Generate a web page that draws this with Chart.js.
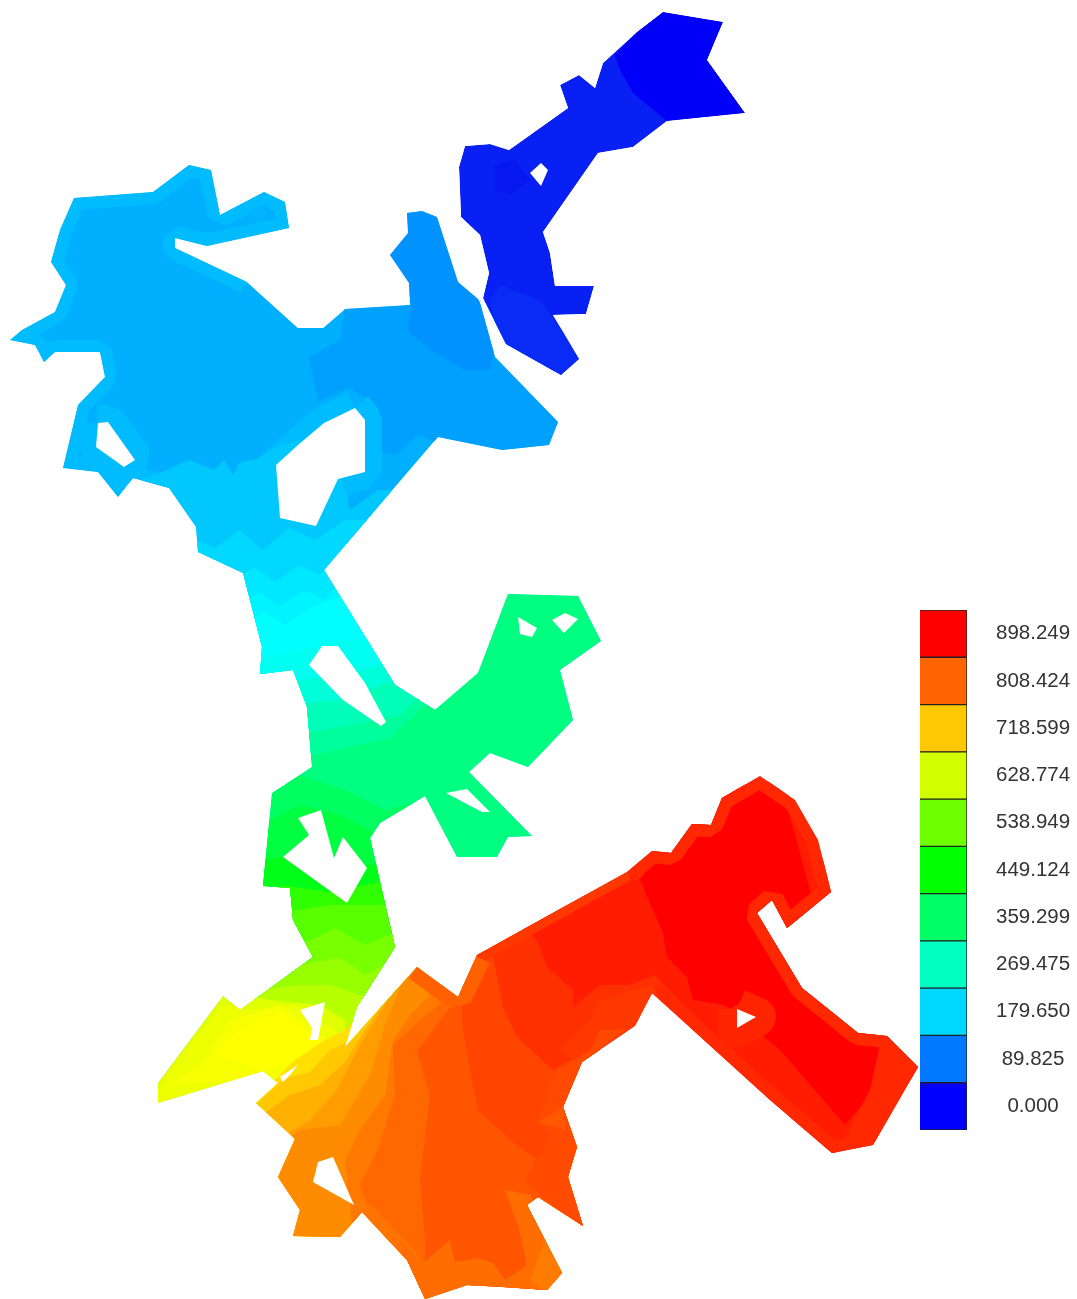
<!DOCTYPE html>
<html>
<head>
<meta charset="utf-8">
<title>Contour map</title>
<script src="https://cdn.jsdelivr.net/npm/chart.js@4"></script>
<style>
  html, body { margin: 0; padding: 0; background: #fff; overflow: hidden; }
  canvas { position: absolute; filter: blur(0.6px); }
  #mapChart { left: 0; top: 0; }
  #scaleChart { left: 910px; top: 600px; }
</style>
</head>
<body>
<canvas id="mapChart" width="1077" height="1299"></canvas>
<canvas id="scaleChart" width="167" height="540"></canvas>
<script>
// colour scale
const scaleLabels = ['898.249', '808.424', '718.599', '628.774', '538.949', '449.124', '359.299', '269.475', '179.650', '89.825', '0.000'];
const scaleColors = ['#ff0000', '#ff6400', '#ffc800', '#d2ff00', '#6eff00', '#00ff00', '#00ff64', '#00ffc0', '#00d7ff', '#0078ff', '#0000ff'];
const scaleCells = [1, 1, 1, 1, 1, 1, 1, 1, 1, 1, 1];

// outlines, in map units
const mainOutline = [[10,340],[22,330],[55,312],[66,285],[51,262],[60,230],[74,198],[153,192],[189,165],[211,170],[220,215],[264,192],[285,202],[289,228],[207,246],[175,238],[175,248],[247,282],[298,328],[323,328],[345,309],[410,305],[409,283],[390,255],[408,233],[407,213],[422,211],[437,217],[458,282],[478,299],[480,303],[495,357],[558,422],[549,445],[502,450],[438,437],[324,570],[395,685],[435,710],[478,673],[508,594],[578,596],[601,641],[560,670],[573,720],[528,767],[490,753],[469,772],[532,836],[508,837],[497,857],[457,857],[425,796],[380,823],[370,838],[395,947],[357,1007],[345,1047],[417,967],[458,997],[477,955],[627,872],[652,851],[671,853],[692,824],[711,825],[722,798],[760,776],[795,800],[818,840],[831,892],[787,928],[772,900],[757,913],[802,988],[858,1033],[887,1036],[918,1067],[873,1145],[832,1153],[770,1100],[652,993],[635,1026],[582,1062],[563,1107],[577,1147],[568,1177],[583,1226],[538,1197],[527,1205],[562,1273],[547,1290],[503,1287],[467,1285],[425,1299],[407,1260],[362,1212],[340,1237],[293,1236],[300,1210],[278,1177],[295,1139],[256,1103],[278,1083],[263,1071],[158,1103],[158,1083],[223,996],[240,1010],[313,957],[293,920],[290,888],[263,886],[272,793],[312,767],[307,707],[293,670],[260,674],[262,647],[243,573],[198,552],[196,527],[169,488],[133,478],[118,497],[98,472],[63,468],[78,405],[105,377],[100,352],[55,352],[44,362],[35,345]];
const blueOutline = [[663,12],[723,22],[707,60],[745,113],[667,121],[633,147],[598,153],[543,232],[550,253],[555,286],[594,286],[586,314],[553,315],[579,359],[561,375],[506,344],[483,298],[489,273],[480,235],[461,217],[459,167],[465,146],[490,144],[509,150],[568,108],[560,85],[579,75],[595,88],[603,63],[637,32]];

// holes
const holeWest = [[98,423],[108,422],[135,460],[124,467],[96,447]];
const holeLake = [[355,408],[365,420],[365,472],[338,479],[316,526],[280,518],[276,465],[298,445],[324,423]];
const holeLong = [[322,646],[338,646],[365,683],[386,722],[381,726],[343,700],[309,665]];
const holeEyeA = [[518,617],[537,628],[532,637],[520,634]];
const holeEyeB = [[552,620],[565,613],[578,619],[564,633]];
const holeSliver = [[446,793],[467,789],[490,812],[482,812]];
const holeStem = [[298,818],[321,810],[334,858],[343,837],[367,868],[347,903],[283,857],[309,835]];
const holeWing = [[300,1010],[325,1002],[318,1040],[310,1040],[312,1028]];
const holeNick = [[280,1077],[298,1065],[290,1075],[283,1082]];
const holeArm = [[318,1162],[333,1157],[354,1205],[313,1182]];
const holeTail = [[737,1009],[756,1017],[737,1028]];
const holeBlue = [[530,173],[541,163],[548,170],[541,186]];

// basin bands
const eastZone = [[309,357],[340,340],[345,305],[412,300],[500,300],[600,430],[500,470],[418,435],[396,455],[380,452],[375,403],[349,388],[318,402]];
const northLobe = [[407,330],[418,340],[440,355],[465,370],[490,370],[495,345],[480,300],[460,280],[437,215],[420,205],[400,215],[385,255],[405,285],[412,305]];
const basinRim = [[247,282],[175,248],[175,238],[207,246],[289,228],[285,202],[264,192],[220,215],[211,170],[189,165],[153,192],[74,198],[60,230],[51,262],[66,285],[55,312],[22,330],[10,340],[35,345],[44,362],[55,352],[100,352],[105,377],[78,405],[63,468],[98,472],[118,497],[133,478],[169,488]];
const knobPatch = [[250,210],[262,205],[268,215],[258,222]];
const basinSouth = [[140,480],[160,473],[189,460],[214,470],[224,460],[233,475],[240,462],[255,460],[273,448],[300,440],[330,450],[345,490],[350,510],[378,490],[395,490],[440,440],[480,600],[200,600],[130,520]];

// stem bands, cyan down through green
const cyanA = [[185,535],[215,548],[240,530],[262,550],[290,528],[315,540],[345,520],[420,520],[420,700],[230,700]];
const cyanB = [[230,580],[255,568],[275,582],[300,565],[320,575],[345,545],[420,545],[420,720],[230,720]];
const cyanC = [[235,605],[260,592],[280,606],[305,590],[325,600],[350,570],[420,570],[420,720],[235,720]];
const cyanD = [[240,630],[265,612],[285,625],[310,608],[345,595],[420,600],[420,740],[240,740]];
const tealA = [[250,660],[300,650],[340,640],[380,640],[420,660],[420,760],[250,760]];
const tealB = [[285,682],[340,675],[385,665],[420,680],[420,760],[285,760]];
const tealC = [[290,705],[340,700],[395,680],[440,700],[440,760],[290,760]];
const tealD = [[295,735],[350,725],[400,715],[420,695],[440,705],[440,770],[295,770]];
const greenMid = [[290,760],[345,748],[390,738],[425,705],[470,590],[620,590],[620,780],[545,870],[445,870],[400,860],[400,1000],[250,1000]];
const greenA = [[268,795],[300,775],[345,790],[385,810],[425,800],[425,1000],[250,1000]];
const greenB = [[262,825],[300,805],[340,815],[380,835],[400,840],[400,1000],[250,1000]];
const greenC = [[258,860],[300,855],[345,870],[390,860],[400,1000],[250,1000]];
const limeA = [[280,885],[330,892],[390,880],[400,1000],[280,1000]];
const limeB = [[285,912],[330,905],[395,905],[400,1010],[285,1010]];
const limeC = [[300,945],[335,928],[365,945],[400,930],[400,1010],[250,1010]];
const limeD = [[230,1000],[300,965],[340,958],[365,975],[395,960],[380,1030],[230,1030]];
const limeE = [[210,1010],[255,990],[300,985],[330,985],[375,1000],[365,1040],[210,1050]];
const limeF = [[150,1110],[150,1080],[220,990],[270,1000],[320,1005],[345,1020],[345,1050],[260,1110]];
const yellowRim = [[150,1110],[165,1075],[222,1005],[250,1010],[295,1005],[335,1030],[345,1050],[260,1110]];
const yellowIn = [[205,1060],[230,1020],[280,1005],[315,1030],[330,1040],[300,1075],[250,1080],[170,1085]];
const yellowCore = [[215,1055],[240,1030],[280,1012],[320,1040],[310,1060],[265,1070]];

// body bands, amber through red
const amberA = [[270,1085],[295,1060],[325,1040],[345,1030],[420,950],[420,1299],[250,1299],[250,1105]];
const amberB = [[255,1105],[285,1078],[310,1072],[330,1050],[352,1040],[420,950],[420,1299],[250,1299]];
const amberC = [[262,1115],[290,1095],[320,1085],[345,1062],[365,1030],[420,950],[420,1299],[250,1299]];
const amberD = [[285,1135],[310,1120],[337,1090],[360,1045],[385,1005],[420,950],[600,950],[600,1299],[270,1299]];
const amberE = [[270,1150],[300,1130],[340,1125],[370,1075],[385,1025],[415,950],[600,950],[600,1299],[270,1299]];
const orangeA = [[345,1160],[360,1130],[385,1095],[393,1040],[410,1015],[440,985],[600,985],[600,1299],[360,1299]];
const orangeB = [[360,1185],[378,1150],[395,1095],[393,1045],[420,1020],[445,1000],[600,990],[600,1299],[400,1299]];
const orangeC = [[425,1240],[420,1180],[430,1095],[417,1052],[455,1000],[600,980],[600,1299],[425,1299]];
const orangeD = [[462,1023],[470,1070],[478,1110],[510,1140],[547,1167],[570,1160],[590,1040],[700,1000],[700,940],[560,900],[462,960]];
const redA = [[490,940],[503,1007],[517,1037],[553,1070],[590,1050],[650,990],[830,1160],[930,1060],[780,780],[700,790]];
const redB = [[520,925],[537,940],[547,967],[573,990],[573,1007],[600,985],[630,985],[655,975],[830,1160],[930,1060],[780,780],[700,790],[640,870]];
const redC = [[640,880],[663,933],[667,957],[687,977],[693,1000],[725,1005],[780,1050],[845,1125],[900,1060],[840,1000],[780,780],[700,790]];

// bands that follow the edge of the body
const redRim = [[627,872],[652,851],[671,853],[692,824],[711,825],[722,798],[760,776],[795,800],[818,840],[831,892],[787,928],[772,900],[757,913],[802,988],[858,1033],[887,1036],[918,1067],[873,1145],[832,1153],[770,1100],[652,993]];
const topRim = [[477,955],[627,872]];
const tailEnd = [[868,1030],[925,1060],[880,1150],[835,1155],[870,1090],[880,1045]];
const lowerEdge = [[652,985],[600,1000],[590,1020],[560,1050],[585,1070],[640,1035],[660,1000]];
const lowerTooth = [[585,1060],[600,1030],[625,1030]];
const bottomBand = [[400,1240],[423,1263],[450,1240],[455,1262],[478,1258],[493,1263],[505,1280],[527,1265],[518,1225],[505,1190],[530,1195],[575,1275],[550,1300],[420,1305],[395,1265]];
const bottomTooth = [[530,1280],[545,1240],[565,1275],[548,1295]];
const bottomLeft = [[362,1212],[407,1260],[425,1299]];
const eastBand = [[590,1050],[555,1072],[545,1100],[538,1122],[550,1135],[525,1180],[535,1190],[570,1220],[590,1240],[600,1100]];
const eastTooth = [[538,1122],[563,1107],[566,1130]];
const apexRim = [[417,967],[458,997],[477,957]];

// blue bands
const blueTip = [[615,55],[637,32],[663,12],[723,22],[707,60],[745,113],[667,121],[633,93],[620,70]];
const blueLower = [[490,300],[500,285],[540,300],[555,320],[585,360],[561,380],[500,350]];
const blueMiddle = [[495,165],[515,160],[530,180],[510,195],[495,190]];

const filled = (data, color) => ({
  data: data.map(([x, y]) => ({ x, y })),
  showLine: true, pointRadius: 0, borderWidth: 0, fill: 'shape',
  backgroundColor: color, borderColor: color
});
const rim = (data, color, width, join = 'bevel') => ({
  data: data.map(([x, y]) => ({ x, y })),
  showLine: true, pointRadius: 0, fill: false,
  borderColor: color, borderWidth: width, borderJoinStyle: join, borderCapStyle: 'butt'
});

// listed bottom layer first
const layers = [
  filled(mainOutline, '#00b0ff'),
  filled(eastZone, '#00a0ff'),
  filled(northLobe, '#0092ff'),
  rim(basinRim, '#00bcff', 24),
  filled(knobPatch, '#00b4ff'),
  rim(holeWest.concat([holeWest[0]]), '#00bcff', 36),
  rim(holeLake.concat([holeLake[0]]), '#00bcff', 34),
  filled(basinSouth, '#00c8ff'),
  filled(cyanA, '#00d8ff'),
  filled(cyanB, '#00e8ff'),
  filled(cyanC, '#00f4ff'),
  filled(cyanD, '#00ffff'),
  filled(tealA, '#00fff0'),
  filled(tealB, '#00ffd8'),
  filled(tealC, '#00ffb8'),
  filled(tealD, '#00ff9c'),
  filled(greenMid, '#00ff80'),
  filled(greenA, '#00ff60'),
  filled(greenB, '#00ff40'),
  filled(greenC, '#00ff18'),
  filled(limeA, '#30ff00'),
  filled(limeB, '#58ff00'),
  filled(limeC, '#78ff00'),
  filled(limeD, '#98ff00'),
  filled(limeE, '#b8ff00'),
  filled(limeF, '#e0ff00'),
  filled(yellowRim, '#eeff00'),
  filled(yellowIn, '#f8ff00'),
  filled(yellowCore, '#ffff00'),
  filled(amberA, '#ffe000'),
  filled(amberB, '#ffc800'),
  filled(amberC, '#ffb000'),
  filled(amberD, '#ff9c00'),
  filled(amberE, '#ff8c00'),
  filled(orangeA, '#ff7800'),
  filled(orangeB, '#ff6800'),
  filled(orangeC, '#ff5500'),
  filled(orangeD, '#ff4400'),
  filled(redA, '#ff3000'),
  filled(redB, '#ff1c00'),
  filled(redC, '#ff0000'),
  rim(redRim, '#ff2800', 24),
  rim(topRim, '#ff3800', 18),
  filled(tailEnd, '#ff2800'),
  filled(lowerEdge, '#ff3800'),
  filled(lowerTooth, '#ff4800'),
  rim(bottomLeft, '#ff7400', 24),
  filled(bottomBand, '#ff6c00'),
  filled(bottomTooth, '#ff7c00'),
  filled(eastBand, '#ff4a00'),
  filled(eastTooth, '#ff5800'),
  rim(apexRim, '#ff6000', 28),
  rim(holeTail.concat([holeTail[0]]), '#ff2400', 40, 'round'),
  filled(blueOutline, '#0820f4'),
  filled(blueTip, '#0000fa'),
  filled(blueLower, '#0a2af5'),
  filled(blueMiddle, '#0618f0'),
  filled(holeWest, '#ffffff'),
  filled(holeLake, '#ffffff'),
  filled(holeLong, '#ffffff'),
  filled(holeEyeA, '#ffffff'),
  filled(holeEyeB, '#ffffff'),
  filled(holeSliver, '#ffffff'),
  filled(holeStem, '#ffffff'),
  filled(holeWing, '#ffffff'),
  filled(holeNick, '#ffffff'),
  filled(holeArm, '#ffffff'),
  filled(holeTail, '#ffffff'),
  filled(holeBlue, '#ffffff')
];

// every band is cut to the two outlines
const clipToOutlines = {
  id: 'clipToOutlines',
  beforeDatasetsDraw(chart) {
    const { ctx, scales } = chart;
    ctx.save();
    ctx.beginPath();
    [mainOutline, blueOutline].forEach(outline => {
      outline.forEach(([x, y], i) => {
        const px = scales.x.getPixelForValue(x);
        const py = scales.y.getPixelForValue(y);
        if (i === 0) ctx.moveTo(px, py); else ctx.lineTo(px, py);
      });
      ctx.closePath();
    });
    ctx.clip();
  },
  afterDatasetsDraw(chart) {
    chart.ctx.restore();
  }
};

new Chart(document.getElementById('mapChart'), {
  type: 'scatter',
  data: { datasets: layers.reverse() },
  options: {
    responsive: false,
    animation: false,
    layout: { padding: 0 },
    plugins: { legend: { display: false }, tooltip: { enabled: false } },
    scales: {
      x: { type: 'linear', min: 0, max: 1077, display: false },
      y: { type: 'linear', min: 0, max: 1299, reverse: true, display: false }
    }
  },
  plugins: [clipToOutlines]
});

new Chart(document.getElementById('scaleChart'), {
  type: 'bar',
  data: {
    labels: scaleLabels,
    datasets: [{
      data: scaleCells,
      backgroundColor: scaleColors,
      borderColor: '#222222',
      borderWidth: 1,
      categoryPercentage: 1,
      barPercentage: 1
    }]
  },
  options: {
    indexAxis: 'y',
    responsive: false,
    animation: false,
    layout: { padding: { left: 10, top: 10, bottom: 10, right: 0 } },
    plugins: { legend: { display: false }, tooltip: { enabled: false } },
    scales: {
      x: { min: 0, max: 1, display: false },
      y: {
        position: 'right',
        grid: { display: false, drawTicks: false },
        border: { display: false },
        afterFit(axis) {
          axis.width = 110;
          axis.paddingTop = 0;
          axis.paddingBottom = 0;
        },
        ticks: {
          crossAlign: 'center',
          padding: 29,
          autoSkip: false,
          color: '#333333',
          font: { family: '"Liberation Sans", Arial, sans-serif', size: 20.5 }
        }
      }
    }
  }
});
</script>
</body>
</html>
